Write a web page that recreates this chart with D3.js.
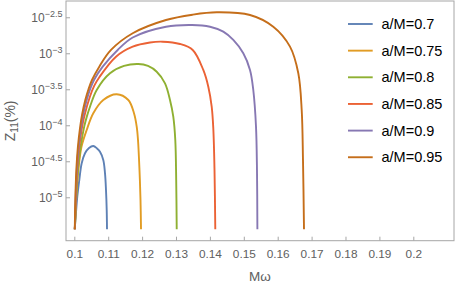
<!DOCTYPE html>
<html><head><meta charset="utf-8">
<script src="https://cdn.jsdelivr.net/npm/d3@7"></script>
<style>
html,body{margin:0;padding:0;background:#fff;}
svg{display:block;font-family:"Liberation Sans",Arial,sans-serif;}
</style></head>
<body>
<svg id="chart" width="457" height="287"></svg>
<script>
// ---- data ----
const seriesNames = ["a/M=0.7","a/M=0.75","a/M=0.8","a/M=0.85","a/M=0.9","a/M=0.95"];
const seriesColors = ["#5E81B5","#E19C24","#8FB032","#EB6235","#8778B3","#C56E1A"];
// x: M*omega ; y: log10 of Z11(%)
const w07 = [0.10012,0.10041,0.10088,0.10147,0.10218,0.10316,0.10434,0.10560,0.10670,0.10758,0.10855,0.10906,0.10935,0.10956,0.10965];
const z07 = [-5.444,-5.269,-4.992,-4.760,-4.528,-4.389,-4.315,-4.288,-4.322,-4.367,-4.482,-4.667,-4.899,-5.176,-5.444];
const w075 = [0.10015,0.10036,0.10070,0.10124,0.10212,0.10366,0.10560,0.10855,0.11251,0.11593,0.11761,0.11841,0.11879,0.11923,0.11953,0.11968];
const z075 = [-5.444,-5.2,-4.9,-4.6,-4.3,-4.065,-3.833,-3.649,-3.569,-3.649,-3.833,-4.019,-4.204,-4.621,-5.038,-5.444];
const w08 = [0.10015,0.10041,0.10069,0.10112,0.10186,0.10292,0.10369,0.10463,0.10661,0.11053,0.11466,0.11888,0.12174,0.12431,0.12676,0.12823,0.12920,0.12979,0.13006,0.13021];
const z08 = [-5.444,-5.2,-4.9,-4.6,-4.3,-4.019,-3.88,-3.742,-3.510,-3.278,-3.176,-3.149,-3.176,-3.256,-3.417,-3.649,-3.881,-4.204,-4.760,-5.444];
const w085 = [0.10015,0.10032,0.10056,0.10088,0.10145,0.10224,0.10292,0.10457,0.10590,0.10743,0.11230,0.11723,0.12233,0.12608,0.13118,0.13493,0.13805,0.13953,0.14053,0.14100,0.14136,0.14159];
const z085 = [-5.444,-5.2,-4.9,-4.6,-4.3,-4.038,-3.881,-3.607,-3.45,-3.329,-3.047,-2.908,-2.850,-2.839,-2.871,-2.954,-3.232,-3.464,-3.742,-4.042,-4.621,-5.444];
const w09 = [0.10015,0.10029,0.10047,0.10077,0.10124,0.10195,0.10263,0.10366,0.10466,0.10581,0.10838,0.11280,0.11723,0.12705,0.13472,0.14003,0.14395,0.14690,0.14985,0.15183,0.15280,0.15360,0.15389,0.15401];
const z09 = [-5.444,-5.2,-4.9,-4.6,-4.3,-4.038,-3.85,-3.649,-3.5,-3.371,-3.186,-2.954,-2.781,-2.631,-2.607,-2.631,-2.700,-2.815,-3.000,-3.232,-3.510,-4.019,-4.621,-5.444];
const w095 = [0.10015,0.10022,0.10038,0.10062,0.10106,0.10168,0.10230,0.10324,0.10419,0.10522,0.10737,0.11083,0.11723,0.12705,0.13493,0.14201,0.15183,0.15870,0.16363,0.16608,0.16708,0.16746,0.16776];
const z095 = [-5.444,-5.2,-4.9,-4.6,-4.3,-4.038,-3.85,-3.649,-3.5,-3.371,-3.186,-2.954,-2.722,-2.538,-2.464,-2.431,-2.468,-2.631,-2.908,-3.278,-3.788,-4.482,-5.444];

const xTicks = [0.1,0.11,0.12,0.13,0.14,0.15,0.16,0.17,0.18,0.19,0.2];
const xTickLabels = ["0.1","0.11","0.12","0.13","0.14","0.15","0.16","0.17","0.18","0.19","0.2"];
const yTickExps = [-5,-4.5,-4,-3.5,-3,-2.5];
const yTickLabels = ["\u22125","\u22124.5","\u22124","\u22123.5","\u22123","\u22122.5"];

const seriesW = [w07,w075,w08,w085,w09,w095];
const seriesZ = [z07,z075,z08,z085,z09,z095];

// ---- layout ----
const L=66, R=454, T=1, B=240.7;
const svg = d3.select("#chart");
const x = d3.scaleLinear().domain([0.097552,0.212006]).range([L,R]);
const y = d3.scaleLog().domain([Math.pow(10,-5.603),Math.pow(10,-2.274)]).range([B,T]);

const axisCol = "#a6a6a6", textCol = "#606060";

svg.append("clipPath").attr("id","clip").append("rect")
  .attr("x",L).attr("y",T).attr("width",R-L).attr("height",B-T);

// x axis ticks (inward)
const xa = svg.append("g").attr("transform",`translate(0,${B})`)
  .call(d3.axisBottom(x).tickValues(xTicks).tickSizeInner(-4).tickSizeOuter(0)
        .tickPadding(9).tickFormat((d,i)=>xTickLabels[i]));
xa.select(".domain").remove();
xa.selectAll(".tick line").attr("stroke",axisCol);
xa.selectAll(".tick text").attr("fill",textCol).attr("font-size","11.8px")
  .attr("font-family","Liberation Sans, Arial, sans-serif");

// y axis ticks (inward) with 10^exp labels
const yTickVals = yTickExps.map(e=>Math.pow(10,e));
const ya = svg.append("g").attr("transform",`translate(${L},0)`)
  .call(d3.axisLeft(y).tickValues(yTickVals).tickSizeInner(-4).tickSizeOuter(0).tickFormat(""));
ya.select(".domain").remove();
ya.selectAll(".tick line").attr("stroke",axisCol);
ya.selectAll(".tick text").remove();
const yl = svg.append("g");
yTickVals.forEach((v,i)=>{
  const t = yl.append("text").attr("x",62.5).attr("y",y(v)+5)
    .attr("text-anchor","end").attr("fill",textCol)
    .attr("font-size","12px");
  t.append("tspan").text("10");
  t.append("tspan").attr("dy",-5.5).attr("font-size","9px").text(yTickLabels[i]);
});

// frame
svg.append("rect").attr("x",L).attr("y",T).attr("width",R-L).attr("height",B-T)
  .attr("fill","none").attr("stroke",axisCol).attr("stroke-width",1);

// curves
const line = d3.line().x(d=>x(d[0])).y(d=>y(Math.pow(10,d[1]))).curve(d3.curveCatmullRom.alpha(0.5));
const g = svg.append("g").attr("clip-path","url(#clip)");
seriesW.forEach((ws,i)=>{
  const pts = ws.map((w,j)=>[w,seriesZ[i][j]]);
  g.append("path").attr("d",line(pts)).attr("fill","none")
    .attr("stroke",seriesColors[i]).attr("stroke-width",1.9)
    .attr("stroke-linejoin","round");
});

// legend
const lg = svg.append("g");
seriesNames.forEach((n,i)=>{
  const yy = 24 + i*26.65;
  lg.append("line").attr("x1",348).attr("x2",372.7).attr("y1",yy).attr("y2",yy)
    .attr("stroke",seriesColors[i]).attr("stroke-width",1.9);
  lg.append("text").attr("x",381.5).attr("y",yy+5).attr("font-size","14.5px")
    .attr("fill","#000").text(n);
});

// axis labels
svg.append("text").attr("x",(L+R)/2).attr("y",281).attr("text-anchor","middle")
  .attr("fill",textCol).attr("font-size","13.5px").text("M\u03c9");
const ylab = svg.append("text").attr("transform",`translate(15,${(T+B)/2}) rotate(-90)`)
  .attr("text-anchor","middle").attr("fill",textCol).attr("font-size","14px");
ylab.append("tspan").text("Z");
ylab.append("tspan").attr("dy",3).attr("font-size","10px").text("11");
ylab.append("tspan").attr("dy",-3).text("(%)");
</script>
</body></html>
